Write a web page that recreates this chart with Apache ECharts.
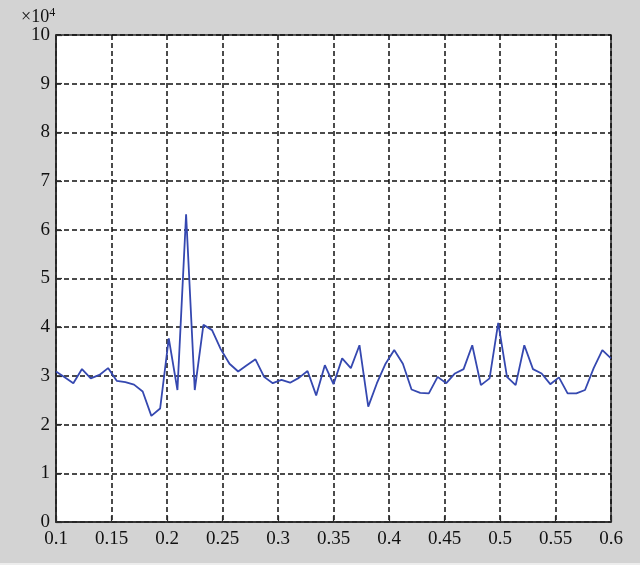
<!DOCTYPE html>
<html>
<head>
<meta charset="utf-8">
<script src="https://cdn.jsdelivr.net/npm/echarts@6/dist/echarts.min.js"></script>
<style>
html,body{margin:0;padding:0;background:#d3d3d3;}
#c{width:640px;height:565px;}
</style>
</head>
<body>
<div id="c"></div>
<script>
// x positions (frequency-like variable)
var xValues = [0.1,0.1078,0.1156,0.1234,0.1313,0.1391,0.1469,0.1547,0.1625,0.1703,
  0.1781,0.1859,0.1938,0.2016,0.2094,0.2172,0.2250,0.2328,0.2406,0.2484,
  0.2563,0.2641,0.2719,0.2797,0.2875,0.2953,0.3031,0.3109,0.3188,0.3266,
  0.3344,0.3422,0.3500,0.3578,0.3656,0.3734,0.3813,0.3891,0.3969,0.4047,
  0.4125,0.4203,0.4281,0.4359,0.4438,0.4516,0.4594,0.4672,0.4750,0.4828,
  0.4906,0.4984,0.5063,0.5141,0.5219,0.5297,0.5375,0.5453,0.5531,0.5609,
  0.5688,0.5766,0.5844,0.5922,0.6];
// y values in units of 10^4
var yValues = [3.09,2.97,2.85,3.14,2.95,3.02,3.16,2.90,2.87,2.82,
  2.68,2.18,2.33,3.77,2.71,6.32,2.71,4.05,3.94,3.55,
  3.25,3.09,3.22,3.34,2.98,2.85,2.92,2.86,2.96,3.10,
  2.60,3.22,2.83,3.36,3.16,3.63,2.37,2.85,3.25,3.53,
  3.25,2.72,2.65,2.64,2.98,2.85,3.05,3.14,3.63,2.81,
  2.95,4.09,2.98,2.81,3.63,3.14,3.05,2.83,2.97,2.64,
  2.64,2.71,3.16,3.53,3.36];
var exponentLabel = '4';

var points = xValues.map(function(x,i){return [x, yValues[i]];});
var font = '"Liberation Serif","DejaVu Serif",serif';
var chart = echarts.init(document.getElementById('c'));
chart.setOption({
  backgroundColor:'#d3d3d3',
  animation:false,
  grid:{left:56,right:29,top:35,bottom:43,show:true,backgroundColor:'#ffffff',borderColor:'#2a2a2a',borderWidth:1.5},
  xAxis:{type:'value',min:0.1,max:0.6,interval:0.05,
    axisLine:{show:true,lineStyle:{color:'#2a2a2a',width:1.5}},
    axisTick:{show:true,inside:true,length:6,lineStyle:{color:'#2a2a2a',width:1.2}},
    axisLabel:{color:'#111',fontFamily:font,fontSize:19,margin:8,
      formatter:function(v){return String(parseFloat(v.toFixed(2)));}},
    splitLine:{show:true,lineStyle:{color:'#111',type:[5,3],width:1.5}}},
  yAxis:{type:'value',min:0,max:10,interval:1,
    axisLine:{show:true,lineStyle:{color:'#2a2a2a',width:1.5}},
    axisTick:{show:true,inside:true,length:6,lineStyle:{color:'#2a2a2a',width:1.2}},
    axisLabel:{color:'#111',fontFamily:font,fontSize:19,margin:6},
    splitLine:{show:true,lineStyle:{color:'#111',type:[5,3],width:1.5}}},
  graphic:[
    {type:'text',left:21,top:7,style:{rich:{a:{fontFamily:font,fontSize:18,fill:'#111'},s:{fontFamily:font,fontSize:12,fill:'#111',verticalAlign:'top',padding:[0,0,9,0]}},text:'{a|×10}{s|'+exponentLabel+'}'}},
    {type:'rect',left:0,top:563,shape:{width:640,height:2},style:{fill:'#ededed'}}
  ],
  series:[{type:'line',data:points,showSymbol:false,
    lineStyle:{color:'#3548b0',width:1.8}}]
});
</script>
</body>
</html>
